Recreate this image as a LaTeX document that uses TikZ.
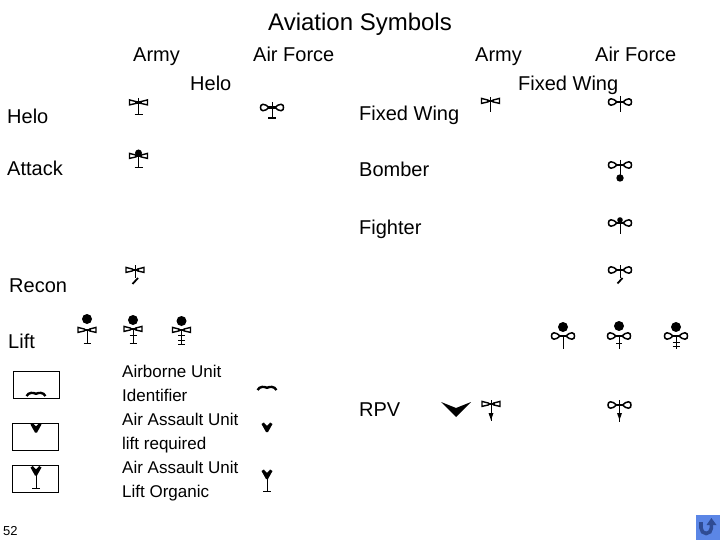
\documentclass[tikz,border=0pt]{standalone}
\usepackage{fontspec}
\setmainfont{Liberation Sans}
\usetikzlibrary{calc,arrows.meta}
\definecolor{btnblue}{HTML}{5B86E6}
\definecolor{btndark}{HTML}{2F4C94}
\tikzset{
  title/.style={anchor=base,font=\fontsize{24}{24}\selectfont,inner sep=0pt},
  head/.style={anchor=base west,font=\fontsize{20}{20}\selectfont,inner sep=0pt},
  small/.style={anchor=base west,font=\fontsize{17}{17}\selectfont,inner sep=0pt},
  stem/.style={line width=0.9pt},
  box/.style={line width=1pt},
  armywing/.pic={
    \draw[line width=1.4pt,line join=miter] (-2,-0.8) -- (-9,-2.6) -- (-9,2.4) -- (-2,0.8)
      (2,-0.8) -- (9,-2.6) -- (9,2.4) -- (2,0.8);
    \draw[line width=2.4pt] (-3.5,0) -- (3.5,0);
  },
  afwing/.pic={
    \draw[line width=1.5pt] (-3,0) .. controls (-5,-2) and (-7,-3.2) .. (-9,-3.2)
      .. controls (-11,-3.2) and (-11.5,-1.5) .. (-11.5,0)
      .. controls (-11.5,1.5) and (-11,3.2) .. (-9,3.2)
      .. controls (-7,3.2) and (-5,2) .. (-3,0)
      (3,0) .. controls (5,-2) and (7,-3.2) .. (9,-3.2)
      .. controls (11,-3.2) and (11.5,-1.5) .. (11.5,0)
      .. controls (11.5,1.5) and (11,3.2) .. (9,3.2)
      .. controls (7,3.2) and (5,2) .. (3,0);
    \draw[line width=2.4pt] (-4,0) -- (4,0);
  },
  chevron/.pic={
    \fill (-5.5,-3.5) -- (-3.2,-5) -- (0,-1.5) -- (3.2,-5) -- (5.5,-3.5) -- (1,4.5) -- (-1,4.5) -- cycle;
  },
  wave/.pic={
    \draw[line width=2.4pt] (-9.5,2) .. controls (-7,-2) and (-3,-1.5) .. (0,-0.2)
      .. controls (3,-1.5) and (7,-2) .. (9.5,2);
  },
  ball/.pic={\fill (0,0) circle (5);}
}
\begin{document}
\begin{tikzpicture}[x=1pt,y=-1pt]
\useasboundingbox (0,0) rectangle (720,540);
\node[title] (title) at (360,31) {Aviation Symbols};
\node[head] (armyl) at (133,62) {Army};
\node[head] (afl) at (253,62) {Air Force};
\node[head] (armyr) at (475,62) {Army};
\node[head] (afr) at (595,62) {Air Force};
\node[head] (helotop) at (190,91) {Helo};
\node[head] (fixedtop) at (518,91) {Fixed Wing};
\node[head] (helo) at (7,124) {Helo};
\node[head] (attack) at (7,176) {Attack};
\node[head] (recon) at (9,292) {Recon};
\node[head] (lift) at (8,348) {Lift};
\node[head] (fixed) at (359,121) {Fixed Wing};
\node[head] (bomber) at (359,177) {Bomber};
\node[head] (fighter) at (359,234) {Fighter};
\node[head] (rpv) at (359,416) {RPV};
\node[small] (air1) at (122,377) {Airborne Unit};
\node[small] (air2) at (122,401) {Identifier};
\node[small] (air3) at (122,425) {Air Assault Unit};
\node[small] (air4) at (122,449) {lift required};
\node[small] (air5) at (122,473) {Air Assault Unit};
\node[small] (air6) at (122,497) {Lift Organic};
\node[anchor=base west,inner sep=0pt,font=\fontsize{13}{13}\selectfont] (page) at (3,535) {52};

\pic at (138.5,102.5) {armywing};
\draw[stem] (138.5,98) -- (138.5,114) (134.5,114) -- (142.5,114);
\pic at (272,107.5) {afwing};
\draw[stem] (272,102) -- (272,118);
\draw[line width=2.4pt] (268,118) -- (276,118);
\pic at (138.5,156) {armywing};
\fill (138.5,153) circle (3.5);
\draw[stem] (138.5,156) -- (138.5,167) (134.5,167) -- (142.5,167);
\pic at (135,270) {armywing};
\draw[stem] (135,265) -- (135,278);
\draw[line width=1.8pt] (138,278) -- (132.5,284);

\pic at (87,330) {armywing};
\pic at (87,319) {ball};
\draw[stem] (87,330) -- (87,343) (83.5,343) -- (90.5,343);
\pic at (133,329) {armywing};
\pic at (133,320) {ball};
\draw[stem] (133,329) -- (133,343) (129.5,343) -- (136.5,343) (129.5,335) -- (136.5,335);
\pic at (181.5,330) {armywing};
\pic at (181.5,321) {ball};
\draw[stem] (181.5,330) -- (181.5,344) (178,344) -- (185,344) (178,340) -- (185,340) (178,335) -- (185,335);

\draw[box] (13.5,371.5) rectangle (59.5,398);
\pic at (36,394) {wave};
\draw[box] (12.5,423.5) rectangle (58.5,450);
\pic at (36,428) {chevron};
\draw[box] (12.5,465.5) rectangle (58.5,492);
\pic at (36,471) {chevron};
\draw[stem] (36,471) -- (36,488) (32,488) -- (40,488);

\pic at (267,388) {wave};
\pic at (267,427.5) {chevron};
\pic at (267,474.5) {chevron};
\draw[stem] (267,474.5) -- (267,491) (263,491) -- (271,491);

\pic at (490.5,101) {armywing};
\draw[stem] (490.5,97) -- (490.5,112);
\pic at (620,102) {afwing};
\draw[stem] (620,96) -- (620,112);
\pic at (620,165) {afwing};
\draw[stem] (620,160) -- (620,178);
\fill (620,178) circle (3.7);
\pic at (620,223) {afwing};
\fill (620,220) circle (2.8);
\draw[stem] (620,218) -- (620,234);
\pic at (620,270) {afwing};
\draw[stem] (620,265) -- (620,278);
\draw[line width=1.8pt] (622.5,278) -- (617.5,283.5);

\pic at (563,336) {afwing};
\pic at (563,327) {ball};
\draw[stem] (563,336) -- (563,349);
\pic at (619,336) {afwing};
\pic at (619,326) {ball};
\draw[stem] (619,336) -- (619,349) (616,343) -- (622,343);
\pic at (676,336) {afwing};
\pic at (676,327) {ball};
\draw[stem] (676,336) -- (676,349) (672.5,342) -- (679.5,342) (672.5,346) -- (679.5,346);

\fill (441,402) -- (456,408) -- (471,402) -- (456,417) -- cycle;
\pic at (491,404) {armywing};
\draw[stem] (491,400) -- (491,421);
\fill (488.5,413) -- (493.5,413) -- (491,420) -- cycle;
\pic at (619.5,405) {afwing};
\draw[stem] (619.5,400) -- (619.5,422);
\fill (617,413) -- (622,413) -- (619.5,420) -- cycle;

\fill[btnblue] (696,515) rectangle (720,540);
\draw[btndark,line width=3.6pt] (701,522) -- (701,528) arc[start angle=180,end angle=0,x radius=5.2,y radius=5.5] -- (711.4,524);
\fill[btndark] (706.5,525) -- (711.4,518) -- (716.5,525) -- cycle;
\end{tikzpicture}
\end{document}
